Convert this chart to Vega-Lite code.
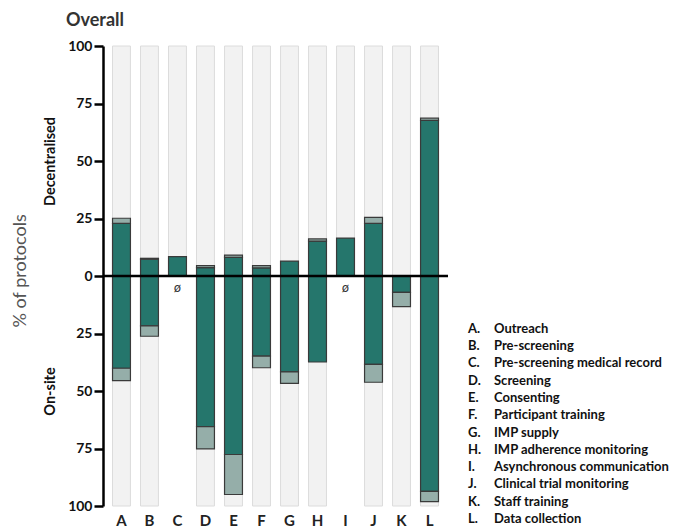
{
  "$schema": "https://vega.github.io/schema/vega-lite/v6.json",
  "padding": {"left": 11, "top": 12, "right": 5, "bottom": 0},
  "background": "white",
  "config": {"view": {"stroke": null}, "font": "Lato"},
  "datasets": {
    "bg": [
      {"k": "A", "lo": -100, "hi": 100}, {"k": "B", "lo": -100, "hi": 100},
      {"k": "C", "lo": 0, "hi": 100}, {"k": "D", "lo": -100, "hi": 100},
      {"k": "E", "lo": -100, "hi": 100}, {"k": "F", "lo": -100, "hi": 100},
      {"k": "G", "lo": -100, "hi": 100}, {"k": "H", "lo": -100, "hi": 100},
      {"k": "I", "lo": 0, "hi": 100}, {"k": "J", "lo": -100, "hi": 100},
      {"k": "K", "lo": -100, "hi": 100}, {"k": "L", "lo": -100, "hi": 100}
    ],
    "seg": [
      {"k": "A", "part": "dark", "lo": 0, "hi": 22.9}, {"k": "A", "part": "light", "lo": 22.9, "hi": 25.1},
      {"k": "A", "part": "dark", "lo": -40.1, "hi": 0}, {"k": "A", "part": "light", "lo": -45.5, "hi": -40.1},
      {"k": "B", "part": "dark", "lo": 0, "hi": 7.3}, {"k": "B", "part": "light", "lo": 7.3, "hi": 7.7},
      {"k": "B", "part": "dark", "lo": -21.7, "hi": 0}, {"k": "B", "part": "light", "lo": -26.2, "hi": -21.7},
      {"k": "C", "part": "dark", "lo": 0, "hi": 8.4},
      {"k": "D", "part": "dark", "lo": 0, "hi": 3.6}, {"k": "D", "part": "light", "lo": 3.6, "hi": 4.5},
      {"k": "D", "part": "dark", "lo": -65.5, "hi": 0}, {"k": "D", "part": "light", "lo": -75.2, "hi": -65.5},
      {"k": "E", "part": "dark", "lo": 0, "hi": 8.1}, {"k": "E", "part": "light", "lo": 8.1, "hi": 9.1},
      {"k": "E", "part": "dark", "lo": -77.6, "hi": 0}, {"k": "E", "part": "light", "lo": -95.0, "hi": -77.6},
      {"k": "F", "part": "dark", "lo": 0, "hi": 3.5}, {"k": "F", "part": "light", "lo": 3.5, "hi": 4.5},
      {"k": "F", "part": "dark", "lo": -34.8, "hi": 0}, {"k": "F", "part": "light", "lo": -39.9, "hi": -34.8},
      {"k": "G", "part": "dark", "lo": 0, "hi": 6.5},
      {"k": "G", "part": "dark", "lo": -41.7, "hi": 0}, {"k": "G", "part": "light", "lo": -46.7, "hi": -41.7},
      {"k": "H", "part": "dark", "lo": 0, "hi": 15.2}, {"k": "H", "part": "light", "lo": 15.2, "hi": 16.1},
      {"k": "H", "part": "dark", "lo": -37.4, "hi": 0},
      {"k": "I", "part": "dark", "lo": 0, "hi": 16.5},
      {"k": "J", "part": "dark", "lo": 0, "hi": 22.9}, {"k": "J", "part": "light", "lo": 22.9, "hi": 25.5},
      {"k": "J", "part": "dark", "lo": -38.4, "hi": 0}, {"k": "J", "part": "light", "lo": -46.2, "hi": -38.4},
      {"k": "K", "part": "dark", "lo": -7.1, "hi": 0}, {"k": "K", "part": "light", "lo": -13.3, "hi": -7.1},
      {"k": "L", "part": "dark", "lo": 0, "hi": 67.7}, {"k": "L", "part": "light", "lo": 67.7, "hi": 68.6},
      {"k": "L", "part": "dark", "lo": -93.6, "hi": 0}, {"k": "L", "part": "light", "lo": -98.1, "hi": -93.6}
    ],
    "empty": [{"k": "C", "sym": "ø"}, {"k": "I", "sym": "ø"}],
    "legend": [
      {"r": 0, "key": "A.", "label": "Outreach"},
      {"r": 1, "key": "B.", "label": "Pre-screening"},
      {"r": 2, "key": "C.", "label": "Pre-screening medical record"},
      {"r": 3, "key": "D.", "label": "Screening"},
      {"r": 4, "key": "E.", "label": "Consenting"},
      {"r": 5, "key": "F.", "label": "Participant training"},
      {"r": 6, "key": "G.", "label": "IMP supply"},
      {"r": 7, "key": "H.", "label": "IMP adherence monitoring"},
      {"r": 8, "key": "I.", "label": "Asynchronous communication"},
      {"r": 9, "key": "J.", "label": "Clinical trial monitoring"},
      {"r": 10, "key": "K.", "label": "Staff training"},
      {"r": 11, "key": "L.", "label": "Data collection"}
    ]
  },
  "hconcat": [
    {
      "width": 345,
      "height": 460,
      "title": {"text": "Overall", "anchor": "start", "frame": "group", "dx": -37, "offset": -5, "baseline": "alphabetic", "fontSize": 18, "fontWeight": "bold", "color": "#333333", "font": "Lato"},
      "layer": [
        {
          "data": {"name": "bg"},
          "mark": {"type": "bar", "fill": "#f2f2f2", "stroke": "#dcdcdc", "strokeWidth": 1},
          "encoding": {
            "x": {"field": "k", "type": "nominal", "scale": {"paddingInner": 0.36, "paddingOuter": 0.34},
                  "axis": {"title": null, "labelAngle": 0, "domain": false, "ticks": false, "labelPadding": 7, "labelFontSize": 15, "labelFontWeight": "bold", "labelColor": "#222222", "labelFont": "Lato"}},
            "y": {"field": "lo", "type": "quantitative", "scale": {"domain": [-100, 100], "nice": false},
                  "axis": {"values": [-100, -75, -50, -25, 0, 25, 50, 75, 100], "labelExpr": "abs(datum.value)", "grid": false,
                           "domainColor": "#000000", "domainWidth": 2.5, "tickColor": "#000000", "tickWidth": 2.5, "tickSize": 9,
                           "labelPadding": 2, "labelFontSize": 14, "labelFontWeight": "bold", "labelColor": "#111111", "labelFont": "Lato",
                           "title": "% of protocols", "titleFontSize": 18, "titleFontWeight": "normal", "titleColor": "#555555", "titleFont": "Lato",
                           "titleX": -83, "titleY": 281, "titleAngle": 270, "titleAlign": "left", "titleBaseline": "middle"}},
            "y2": {"field": "hi"}
          }
        },
        {
          "data": {"name": "seg"},
          "mark": {"type": "bar", "stroke": "#3a3a3a", "strokeWidth": 1.2},
          "encoding": {
            "x": {"field": "k", "type": "nominal"},
            "y": {"field": "lo", "type": "quantitative", "axis": null},
            "y2": {"field": "hi"},
            "color": {"field": "part", "type": "nominal", "scale": {"domain": ["dark", "light"], "range": ["#25766c", "#95aea9"]}, "legend": null}
          }
        },
        {
          "data": {"name": "empty"},
          "mark": {"type": "text", "fontSize": 12, "color": "#333333", "font": "DejaVu Sans"},
          "encoding": {
            "x": {"field": "k", "type": "nominal"},
            "y": {"datum": -5, "type": "quantitative",
                  "axis": {"orient": "left", "values": [50, -50], "labelExpr": "datum.value > 0 ? 'Decentralised' : 'On-site'",
                           "labelAngle": 270, "labelAlign": "center", "labelBaseline": "middle", "ticks": false, "tickSize": 0, "domain": false, "grid": false,
                           "offset": 50, "labelPadding": 3, "labelFontSize": 14.5, "labelFontWeight": "bold", "labelColor": "#111111", "labelFont": "Lato", "title": null}},
            "text": {"field": "sym"}
          }
        },
        {
          "data": {"values": [{}]},
          "mark": {"type": "rule", "color": "#000000", "strokeWidth": 2.5},
          "encoding": {"y": {"datum": 0, "type": "quantitative", "axis": null}}
        }
      ],
      "resolve": {"axis": {"y": "independent"}}
    },
    {
      "width": 200,
      "height": 460,
      "data": {"name": "legend"},
      "layer": [
        {
          "mark": {"type": "text", "align": "left", "baseline": "middle", "fontSize": 13, "fontWeight": "bold", "color": "#111111", "font": "Lato"},
          "encoding": {
            "x": {"datum": 0, "type": "quantitative", "scale": {"domain": [0, 200]}, "axis": null},
            "y": {"field": "r", "type": "quantitative", "scale": {"domain": [-16.35, 10.25], "reverse": true, "nice": false, "zero": false}, "axis": null},
            "text": {"field": "key"}
          }
        },
        {
          "mark": {"type": "text", "align": "left", "baseline": "middle", "fontSize": 13, "fontWeight": "bold", "color": "#111111", "font": "Lato"},
          "encoding": {
            "x": {"datum": 26, "type": "quantitative"},
            "y": {"field": "r", "type": "quantitative"},
            "text": {"field": "label"}
          }
        }
      ]
    }
  ],
  "spacing": 18
}
